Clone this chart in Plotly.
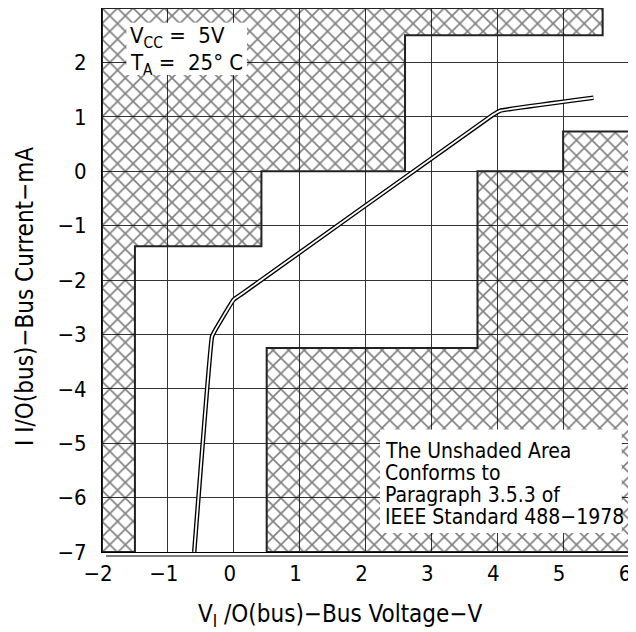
import plotly.graph_objects as go

# Data
bus_voltage = [-0.60, -0.33, -0.29, 0.0, 0.14, 3.94, 4.04, 5.46]
bus_current = [-7.0, -3.04, -2.94, -2.36, -2.24, 1.04, 1.11, 1.35]

# shaded (non-conforming) regions
upper_x = [-2, 5.6, 5.6, 2.6, 2.6, 0.42, 0.42, -1.5, -1.5, -2, -2]
upper_y = [3, 3, 2.5, 2.5, 0, 0, -1.38, -1.38, -7, -7, 3]
lower_x = [0.5, 0.5, 3.7, 3.7, 5.0, 5.0, 6, 6, 0.5]
lower_y = [-7, -3.25, -3.25, 0, 0, 0.73, 0.73, -7, -7]

x_ticks = [-2, -1, 0, 1, 2, 3, 4, 5, 6]
y_ticks = [2, 1, 0, -1, -2, -3, -4, -5, -6, -7]

FONT = "DejaVu Sans Condensed, Liberation Sans Narrow, Liberation Sans, sans-serif"

# page body has an 8px default margin: figure is sized so the plot area
# lands at window px x 102..629, y 8..552
W, H = 628, 624
L, R, T, B = 94, 7, 0, 80
OFF = 8
PX0, PX1 = OFF + L, OFF + W - R
PY0, PY1 = OFF + T, OFF + H - B

def px_to_paper_x(px):
    return (px - PX0) / (PX1 - PX0)

def px_to_paper_y(py):
    return (PY1 - py) / (PY1 - PY0)

fig = go.Figure()

for xs, ys in [(upper_x, upper_y), (lower_x, lower_y)]:
    fig.add_trace(go.Scatter(
        x=xs, y=ys, mode="lines", fill="toself",
        fillcolor="rgba(0,0,0,0)",
        fillpattern=dict(shape="x", size=11, solidity=0.27,
                         fgcolor="black", bgcolor="rgba(0,0,0,0)"),
        line=dict(color="#222", width=2),
        hoverinfo="skip", showlegend=False))

# double-line curve
fig.add_trace(go.Scatter(x=bus_voltage, y=bus_current, mode="lines",
                         line=dict(color="black", width=4.5, shape="spline", smoothing=0.3),
                         hoverinfo="skip", showlegend=False))
fig.add_trace(go.Scatter(x=bus_voltage, y=bus_current, mode="lines",
                         line=dict(color="white", width=1.8, shape="spline", smoothing=0.3),
                         hoverinfo="skip", showlegend=False))

shapes = [
    # white boxes behind texts
    dict(type="rect", xref="x", yref="y", x0=-1.63, x1=0.2, y0=1.77, y1=2.73,
         fillcolor="white", line=dict(width=0), layer="above"),
    dict(type="rect", xref="x", yref="y", x0=2.22, x1=5.89, y0=-6.65, y1=-4.75,
         fillcolor="white", line=dict(width=0), layer="above"),
    # shadow frame lines (paper refs so they are not clipped)
    dict(type="line", xref="paper", yref="paper",
         x0=px_to_paper_x(633), x1=px_to_paper_x(633),
         y0=px_to_paper_y(556), y1=px_to_paper_y(13),
         line=dict(color="black", width=1.2), layer="above"),
    dict(type="line", xref="paper", yref="paper",
         x0=px_to_paper_x(106), x1=px_to_paper_x(633),
         y0=px_to_paper_y(556), y1=px_to_paper_y(556),
         line=dict(color="black", width=1.2), layer="above"),
]

ann = []
def add_text(x, y, text, size=20, xanchor="left", xref="x", yref="y", angle=0, yanchor="middle"):
    ann.append(dict(x=x, y=y, xref=xref, yref=yref, text=text, showarrow=False,
                    xanchor=xanchor, yanchor=yanchor, textangle=angle,
                    font=dict(family=FONT, size=size, color="black")))

add_text(-1.60, 2.45, "V<sub>CC</sub> =  5V", size=22)
add_text(-1.60, 1.97, "T<sub>A</sub> =  25° C", size=22)
lines = ["The Unshaded Area", "Conforms to", "Paragraph 3.5.3 of", "IEEE Standard 488−1978"]
ys = [-5.14, -5.54, -5.95, -6.35]
for t, yv in zip(lines, ys):
    add_text(2.26, yv, t, size=21)

# axis titles
add_text(px_to_paper_x(340), px_to_paper_y(615), "V<sub>I</sub> /O(bus)−Bus Voltage−V",
         size=24, xanchor="center", xref="paper", yref="paper")
add_text(px_to_paper_x(25), px_to_paper_y(297), "I I/O(bus)−Bus Current−mA",
         size=24, xanchor="center", xref="paper", yref="paper", angle=-90)

fig.update_layout(
    width=W, height=H,
    margin=dict(l=L, r=R, t=T, b=B, autoexpand=False),
    paper_bgcolor="white", plot_bgcolor="white",
    shapes=shapes, annotations=ann,
    font=dict(family=FONT, size=22, color="black"),
)
fig.update_xaxes(range=[-2, 6], tickvals=x_ticks, showgrid=True, gridcolor="#333", gridwidth=1,
                 zeroline=False, showline=True, linecolor="black", linewidth=1, mirror=True,
                 ticks="", tickfont=dict(family=FONT, size=22), ticklabelstandoff=2,
                 ticklabelshift=-4, automargin=False)
fig.update_yaxes(range=[-7, 3], tickvals=y_ticks, showgrid=True, gridcolor="#333", gridwidth=1,
                 zeroline=False, showline=True, linecolor="black", linewidth=1, mirror=True,
                 ticks="", tickfont=dict(family=FONT, size=22), ticklabelstandoff=10,
                 automargin=False)

fig.write_html("out.html")
